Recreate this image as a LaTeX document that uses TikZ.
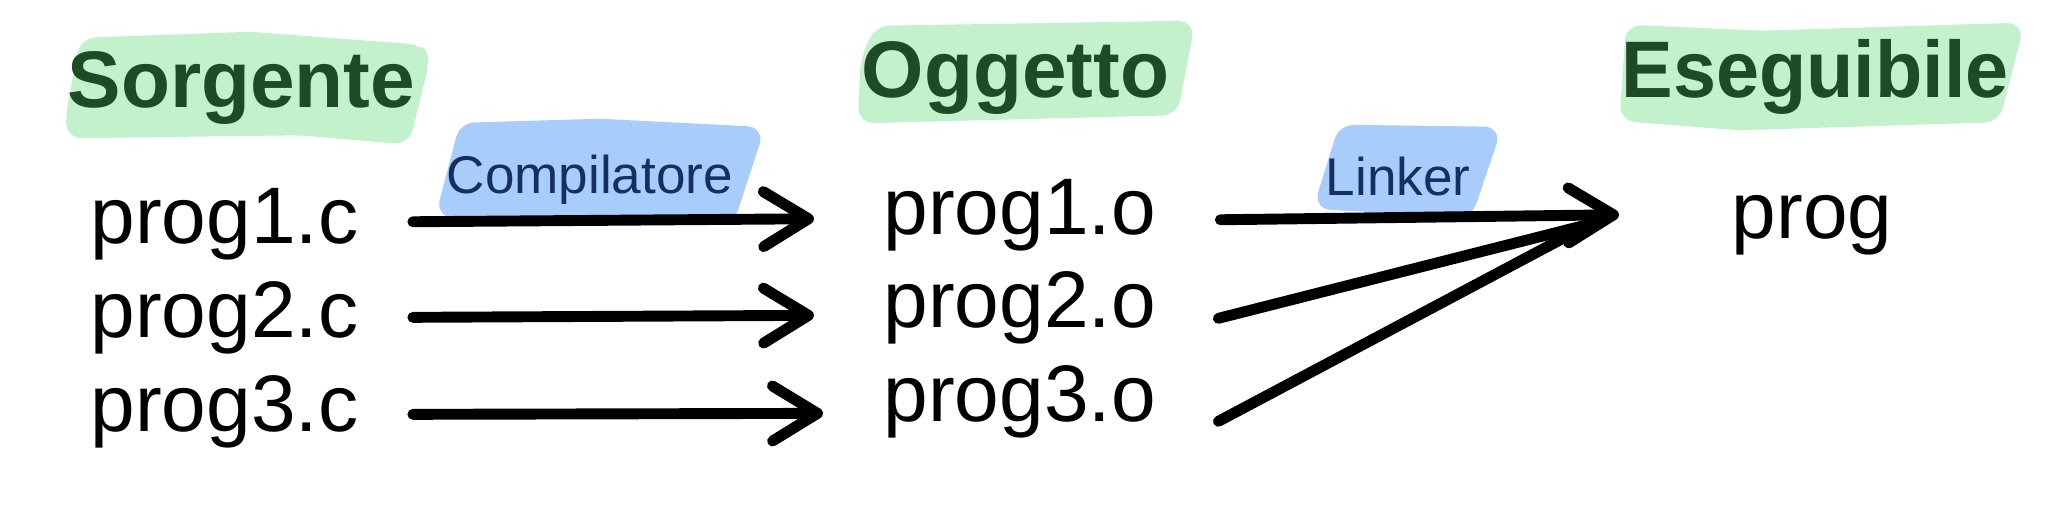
\documentclass[tikz,border=0pt]{standalone}
\usepackage{fontspec}
\setmainfont{Liberation Sans}
\usetikzlibrary{arrows.meta}
\definecolor{hlgreen}{HTML}{C3F1CB}
\definecolor{hlblue}{HTML}{A8CDFB}
\definecolor{headgreen}{HTML}{1E4A25}
\definecolor{labblue}{HTML}{15305E}
\begin{document}
\begin{tikzpicture}[x=0.01cm,y=-0.01cm,
  head/.style={anchor=base west,inner sep=0pt,text=headgreen,font=\fontsize{22.8pt}{24pt}\selectfont\bfseries},
  file/.style={anchor=base west,inner sep=0pt,font=\fontsize{22.8pt}{24pt}\selectfont},
  lab/.style={anchor=base west,inner sep=0pt,text=labblue,font=\fontsize{15.1pt}{17pt}\selectfont},
  hlg/.style={fill=hlgreen,draw=hlgreen,line width=3pt,rounded corners=3pt,line join=round},
  hlb/.style={fill=hlblue,draw=hlblue,line width=3pt,rounded corners=3pt,line join=round},
  arr/.style={line width=3.1pt,line cap=round,-{Straight Barb[length=0.45cm,width=0.55cm,line cap=round,line join=round]}},
  ln/.style={line width=3.1pt,line cap=round}]
\useasboundingbox (0,0) rectangle (2048,517);
% highlights
\fill[hlg] (85,43) -- (250,37) -- (420,50) -- (424,62) -- (405,139) -- (300,130) -- (71,133) -- (72,110) -- cycle;
\fill[hlg] (879,31) -- (1189,26) -- (1173,110) -- (863,118) -- (866,60) -- cycle;
\fill[hlg] (1631,30) -- (1760,36) -- (2018,28) -- (1995,117) -- (1739,125) -- (1625,116) -- cycle;
\fill[hlb] (464,128) -- (600,124) -- (758,132) -- (730,218) -- (442,212) -- cycle;
\fill[hlb] (1343,130) -- (1495,132) -- (1468,212) -- (1320,204) -- cycle;
% headings
\node[head] (hsrc) at (67,107) {Sorgente};
\node[head] (hobj) at (861,97) {Oggetto};
\node[head] (hexe) at (1621,97) {\scalebox{0.965}[1]{Eseguibile}};
% files
\node[file] (p1c) at (90,243) {prog1.c};
\node[file] (p2c) at (90,337) {prog2.c};
\node[file] (p3c) at (90,431) {prog3.c};
\node[file] (p1o) at (883,234) {prog1.o};
\node[file] (p2o) at (883,327) {prog2.o};
\node[file] (p3o) at (883,421) {prog3.o};
\node[file] (prg) at (1731,238) {prog};
% labels
\node[lab] (lcomp) at (446,193) {Compilatore};
\node[lab] (llink) at (1325,195) {Linker};
% compiler arrows
\draw[arr] ([xshift=0.54cm,yshift=0.02cm]p1c.east) -- ([xshift=-0.69cm,yshift=-0.04cm]p1o.west);
\draw[arr] ([xshift=0.54cm]p2c.east) -- ([xshift=-0.69cm,yshift=-0.08cm]p2o.west);
\draw[arr] ([xshift=0.54cm,yshift=-0.03cm]p3c.east) -- ([xshift=-0.60cm,yshift=-0.12cm]p3o.west);
% linker
\coordinate (join) at (1590,224);
\draw[ln] ([xshift=0.62cm,yshift=-0.11cm]p2o.east) -- (join);
\draw[ln] ([xshift=0.62cm,yshift=-0.20cm]p3o.east) -- (join);
\draw[arr] ([xshift=0.64cm,yshift=-0.05cm]p1o.east) -- ([xshift=-1.12cm,yshift=0.10cm]prg.west);
\end{tikzpicture}
\end{document}
